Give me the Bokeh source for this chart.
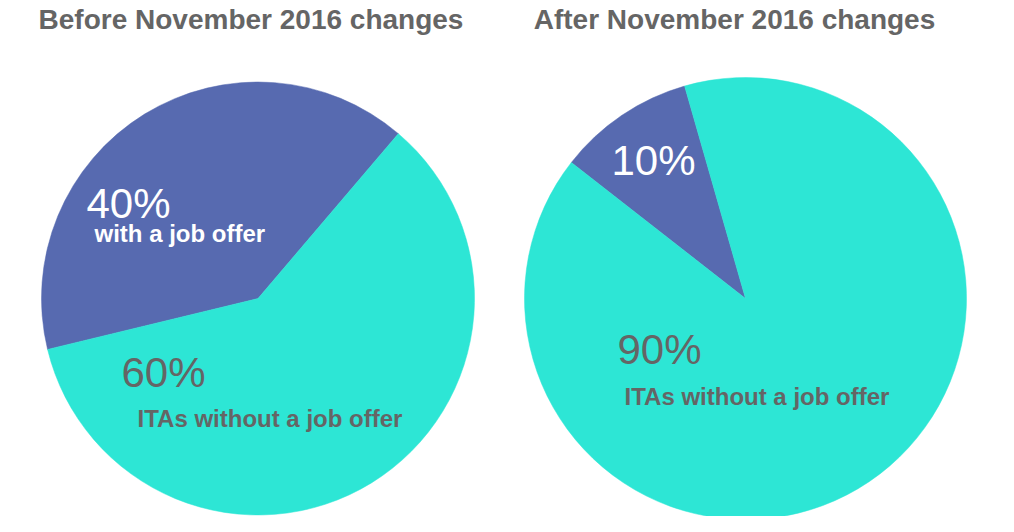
import math
from bokeh.plotting import figure
from bokeh.models import Range1d, ColumnDataSource
from bokeh.core.properties import value
from bokeh.embed import file_html
from bokeh.resources import INLINE

# ---- data ----
titles = ["Before November 2016 changes", "After November 2016 changes"]
categories = ["with a job offer", "ITAs without a job offer"]
before_values = [40, 60]
after_values = [10, 90]

# ---- style / layout ----
colors = ["#576AB0", "#2DE6D5"]
grey = "#656565"
FONT = "Liberation Sans"
W, H = 998, 516
REF_H = H

def Y(y_ref):
    return REF_H - y_ref

p = figure(width=W, height=H, output_backend="svg", toolbar_location=None,
           x_range=Range1d(0, W), y_range=Range1d(0, H),
           min_border=0, outline_line_color=None, background_fill_color="white")
p.axis.visible = False
p.xgrid.visible = False
p.ygrid.visible = False

pies = [
    dict(vals=before_values, cx=257.5, cy=298, r=216.5, rot=49.6),
    dict(vals=after_values, cx=745, cy=298, r=221, rot=106.0),
]

for pie in pies:
    total = float(sum(pie["vals"]))
    starts, ends = [], []
    a = math.radians(pie["rot"])
    for v in pie["vals"]:
        starts.append(a)
        a += 2 * math.pi * v / total
        ends.append(a)
    src = ColumnDataSource(dict(
        x=[pie["cx"]] * len(pie["vals"]), y=[Y(pie["cy"])] * len(pie["vals"]),
        start=starts, end=ends, color=colors, cat=categories, val=pie["vals"]))
    p.wedge(x="x", y="y", radius=pie["r"], start_angle="start", end_angle="end",
            direction="anticlock", fill_color="color", line_color="color",
            line_width=0.5, source=src)

# titles
p.text(x=[250.5, 734], y=[Y(19), Y(19)], text=titles, text_align="center",
       text_baseline="alphabetic", text_font=value(FONT), text_font_style="bold",
       text_font_size="28px", text_color=grey)

# percentage labels
pct_x = [86, 121, 611, 617]
pct_y = [203, 372, 160, 349]
pct_txt = [f"{before_values[0]}%", f"{before_values[1]}%",
           f"{after_values[0]}%", f"{after_values[1]}%"]
pct_col = ["white", grey, "white", grey]
p.text(x=pct_x, y=[Y(v) for v in pct_y], text=pct_txt, text_color=pct_col,
       text_align="left", text_baseline="alphabetic", text_font=value(FONT),
       text_font_size="42px")

# category labels
cat_x = [94, 137, 624]
cat_y = [233, 418, 396]
cat_txt = [categories[0], categories[1], categories[1]]
cat_col = ["white", grey, grey]
p.text(x=cat_x, y=[Y(v) for v in cat_y], text=cat_txt, text_color=cat_col,
       text_align="left", text_baseline="alphabetic", text_font=value(FONT),
       text_font_style="bold", text_font_size="24px")

open("out.html", "w").write(file_html(p, INLINE))
